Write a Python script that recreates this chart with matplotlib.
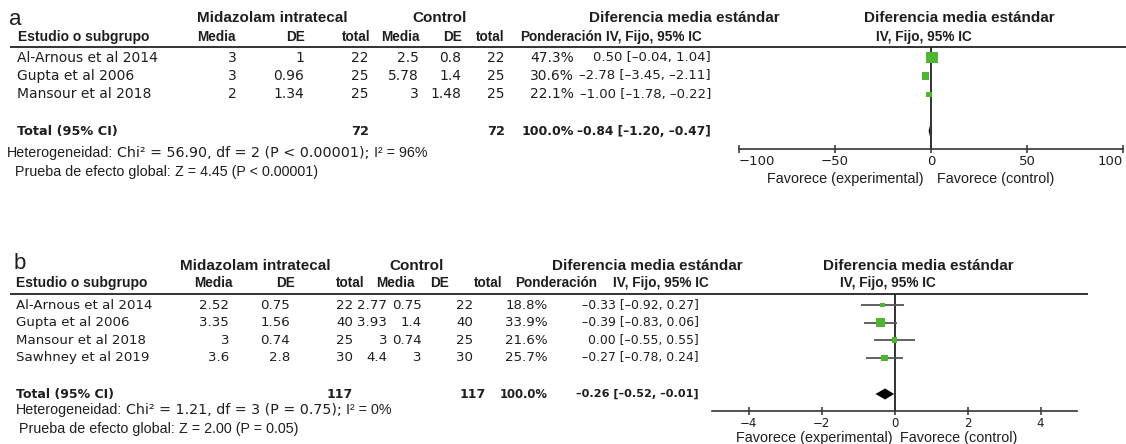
"""Forest plots (a, b): midazolam intratecal vs control, SMD IV fixed."""

import matplotlib

matplotlib.use("Agg")
import matplotlib.pyplot as plt

W, H = 1126, 444
SANS = "Liberation Sans"
LUC = "DejaVu Sans"
INK = "#1e1e1e"
GREEN = "#4fb42f"

# ---- panel a
studies_a = ["Al-Arnous et al 2014", "Gupta et al 2006", "Mansour et al 2018"]
exp_mean_a = [3, 3, 2]
exp_sd_a = [1, 0.96, 1.34]
exp_n_a = [22, 25, 25]
ctl_mean_a = [2.5, 5.78, 3]
ctl_sd_a = [0.8, 1.4, 1.48]
ctl_n_a = [22, 25, 25]
weight_a = [47.3, 30.6, 22.1]
smd_a = [0.50, -2.78, -1.00]
lo_a = [-0.04, -3.45, -1.78]
hi_a = [1.04, -2.11, -0.22]
total_n_a = [72, 72]
total_a = [-0.84, -1.20, -0.47]
ticks_a = [-100, -50, 0, 50, 100]
het_a = ["Chi² = 56.90, df = 2 (P < 0.00001);", "I² = 96%"]
overall_a = "Z = 4.45 (P < 0.00001)"

# ---- panel b
studies_b = ["Al-Arnous et al 2014", "Gupta et al 2006", "Mansour et al 2018", "Sawhney et al 2019"]
exp_mean_b = [2.52, 3.35, 3, 3.6]
exp_sd_b = [0.75, 1.56, 0.74, 2.8]
exp_n_b = [22, 40, 25, 30]
ctl_mean_b = [2.77, 3.93, 3, 4.4]
ctl_sd_b = [0.75, 1.4, 0.74, 3]
ctl_n_b = [22, 40, 25, 30]
weight_b = [18.8, 33.9, 21.6, 25.7]
smd_b = [-0.33, -0.39, 0.00, -0.27]
lo_b = [-0.92, -0.83, -0.55, -0.78]
hi_b = [0.27, 0.06, 0.55, 0.24]
total_n_b = [117, 117]
total_b = [-0.26, -0.52, -0.01]
ticks_b = [-4, -2, 0, 2, 4]
het_b = ["Chi² = 1.21, df = 3 (P = 0.75);", "I² = 0%"]
overall_b = "Z = 2.00 (P = 0.05)"

# pixel layout of each panel
LAYOUT = {
    "a": dict(letter=(9, 25), top_y=18, mid_c=272, ctl_c=440, smd_c=684, rsmd_c=959,
              h2_y=37, est_x=18, h_media=216, h_de=305, h_tot=370, h_media2=400, h_de2=462,
              h_tot2=505, h_pond=520, h_iv=606, riv_c=924, line=(10, 1126, 47),
              row0=57.5, step=18.5, total_y=131, cols=[237, 304, 369, 419, 461, 505, 574, 711],
              tot_cols=[369, 505], name_x=17, het=(7, 153), pru=(15, 172),
              fx=(739, 1123), xlim=(-100, 100), axis_y=149, tick_size=9.5, edge_labels=True,
              fav_y=179, fav=(924, 937), px_per_w=0.24, size=10, bold_size=9.3,
              ci_size=9.5, ci_bold=8.8),
    "b": dict(letter=(14, 269), top_y=266, mid_c=255, ctl_c=417, smd_c=647, rsmd_c=918,
              h2_y=283, est_x=16, h_media=213, h_de=295, h_tot=365, h_media2=395, h_de2=449,
              h_tot2=503, h_pond=515, h_iv=613, riv_c=888, line=(10, 1088, 294),
              row0=305, step=17.6, total_y=394, cols=[229, 290, 353, 387, 422, 473, 548, 699],
              tot_cols=[353, 486], name_x=16, het=(16, 410), pru=(19, 429),
              fx=(712, 1077), xlim=(-5, 5), axis_y=411, tick_size=8.5, edge_labels=False,
              fav_y=438, fav=(893, 900), px_per_w=0.255, size=9.6, bold_size=9.0,
              ci_size=8.9, ci_bold=8.1),
}

fig = plt.figure(figsize=(W / 100, H / 100), dpi=100)
bg = fig.add_axes([0, 0, 1, 1])
bg.set_xlim(0, W)
bg.set_ylim(H, 0)
bg.axis("off")


def g(v):
    return f"{v:g}"


def ci(est, lo, hi):
    return f"{est:.2f} [{lo:.2f}, {hi:.2f}]".replace("-", "–")


def put(x, y, s, ha="left", size=10, family=LUC, weight="normal"):
    return bg.text(x, y, s, ha=ha, va="center", fontsize=size, family=family,
                   weight=weight, color=INK)


def put_runs(x, y, runs, size):
    r = fig.canvas.get_renderer()
    for s, fam in runs:
        t = bg.text(x, y, s, va="center", fontsize=size, family=fam, color=INK)
        x += t.get_window_extent(r).width + 0.28 * size * 100 / 72


def draw_panel(key, studies, em, es, en, cm, cs, cn, w, smd, lo, hi, tot_n, tot, ticks, het, overall):
    L = LAYOUT[key]
    put(L["letter"][0], L["letter"][1], key, size=16, family=SANS).set_va("baseline")

    # column headers
    hb = dict(family=SANS, weight="bold")
    put(L["mid_c"], L["top_y"], "Midazolam intratecal", ha="center", size=11, **hb)
    put(L["ctl_c"], L["top_y"], "Control", ha="center", size=11, **hb)
    put(L["smd_c"], L["top_y"], "Diferencia media estándar", ha="center", size=11, **hb)
    put(L["rsmd_c"], L["top_y"], "Diferencia media estándar", ha="center", size=11, **hb)
    y2 = L["h2_y"]
    put(L["est_x"], y2, "Estudio o subgrupo", size=10, **hb)
    put(L["h_media"], y2, "Media", ha="center", size=9.8, **hb)
    put(L["h_de"], y2, "DE", ha="right", size=9.8, **hb)
    put(L["h_tot"], y2, "total", ha="right", size=9.8, **hb)
    put(L["h_media2"], y2, "Media", ha="center", size=9.8, **hb)
    put(L["h_de2"], y2, "DE", ha="right", size=9.8, **hb)
    put(L["h_tot2"], y2, "total", ha="right", size=9.8, **hb)
    put(L["h_pond"], y2, "Ponderación", size=9.8, **hb)
    put(L["h_iv"], y2, "IV, Fijo, 95% IC", size=9.8, **hb)
    put(L["riv_c"], y2, "IV, Fijo, 95% IC", ha="center", size=9.8, **hb)
    x0, x1, ly = L["line"]
    bg.plot([x0, x1], [ly, ly], color="#333333", lw=1.4, solid_capstyle="butt")

    # study rows
    rows = [L["row0"] + i * L["step"] for i in range(len(studies))]
    sz = L["size"]
    for i, y in enumerate(rows):
        put(L["name_x"], y, studies[i], size=sz)
        cells = [g(em[i]), g(es[i]), str(en[i]), g(cm[i]), g(cs[i]), str(cn[i]),
                 f"{w[i]:.1f}%"]
        for cx, s in zip(L["cols"], cells):
            put(cx, y, s, ha="right", size=sz)
        put(L["cols"][7], y, ci(smd[i], lo[i], hi[i]), ha="right", size=L["ci_size"])

    ty = L["total_y"]
    bs = L["bold_size"]
    put(L["name_x"], ty, "Total (95% CI)", size=bs, weight="bold")
    put(L["tot_cols"][0], ty, str(tot_n[0]), ha="right", size=bs, weight="bold")
    put(L["tot_cols"][1], ty, str(tot_n[1]), ha="right", size=bs, weight="bold")
    put(L["cols"][6], ty, "100.0%", ha="right", size=L["ci_bold"] + 0.3, weight="bold")
    put(L["cols"][7], ty, ci(*tot), ha="right", size=L["ci_bold"], weight="bold")

    put_runs(L["het"][0], L["het"][1], [("Heterogeneidad:", SANS), (het[0], LUC), (het[1], SANS)], 10.3)
    put_runs(L["pru"][0], L["pru"][1], [("Prueba de efecto global:", SANS), (overall, SANS)], 10.3)

    # forest axes
    fx0, fx1 = L["fx"]
    ax = fig.add_axes([fx0 / W, 0, (fx1 - fx0) / W, 1])
    ax.patch.set_visible(False)
    ax.set_xlim(*L["xlim"])
    ax.set_ylim(H, 0)
    for side in ("top", "left", "right"):
        ax.spines[side].set_visible(False)
    ax.spines["bottom"].set_position(("data", L["axis_y"]))
    ax.spines["bottom"].set_color("#333333")
    ax.spines["bottom"].set_linewidth(1.2)
    ax.yaxis.set_visible(False)
    ax.set_xticks(ticks)
    ax.tick_params(axis="x", direction="inout", length=6, width=1.1, color="#333333",
                   pad=1.5, labelsize=L["tick_size"], labelcolor=INK)
    if L["edge_labels"]:
        labels = ax.get_xticklabels()
        labels[0].set_ha("left")
        labels[-1].set_ha("right")

    ax.vlines(0, ly, L["axis_y"], color="#222222", lw=1.3, zorder=1)
    ax.hlines(rows, lo, hi, color="#555555", lw=1.3, zorder=2)
    sides = [(wi * L["px_per_w"] * 0.72) ** 2 for wi in w]
    ax.scatter(smd, rows, s=sides, marker="s", color=GREEN, linewidths=0, zorder=3)
    est, tlo, thi = tot
    ax.fill([tlo, est, thi, est], [ty, ty - 5.5, ty, ty + 5.5], color="black",
            lw=0, zorder=3)

    put(L["fav"][0], L["fav_y"], "Favorece (experimental)", ha="right", size=10.4, family=SANS)
    put(L["fav"][1], L["fav_y"], "Favorece (control)", size=10.4, family=SANS)


draw_panel("a", studies_a, exp_mean_a, exp_sd_a, exp_n_a, ctl_mean_a, ctl_sd_a, ctl_n_a,
           weight_a, smd_a, lo_a, hi_a, total_n_a, total_a, ticks_a, het_a, overall_a)
draw_panel("b", studies_b, exp_mean_b, exp_sd_b, exp_n_b, ctl_mean_b, ctl_sd_b, ctl_n_b,
           weight_b, smd_b, lo_b, hi_b, total_n_b, total_b, ticks_b, het_b, overall_b)

fig.savefig("out.png", dpi=100)
